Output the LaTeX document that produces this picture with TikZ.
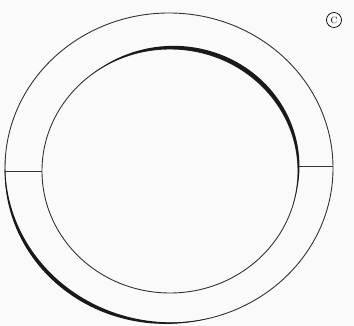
\documentclass[tikz,border=0pt]{standalone}
\usepackage{tikz}
\usetikzlibrary{positioning,calc}

\begin{document}
\begin{tikzpicture}[x=1pt,y=1pt,thinline/.style={line width=0.9pt,black!80},heavy/.style={fill=black!90}]
\useasboundingbox (0,0) rectangle (354,326);
\fill[black!2] (0,0) rectangle (354,326);
\coordinate (co) at (169,158);
\coordinate (ci) at (170,155);
\draw[thinline] (co) ellipse[x radius=164, y radius=155];
\draw[thinline] (ci) ellipse[x radius=128, y radius=122];
% radial joins
\coordinate (il) at ($(ci)+(180:128 and 122)$);
\coordinate (ol) at (5,155);
\coordinate (ir) at (298,160);
\coordinate (or) at (333,160);
\draw[thinline] (ol) -- (il);
\draw[thinline] (ir) -- (or);
% heavy parts
\fill[heavy] plot[domain=-15:128,samples=60] ({170+(128+4.2*sin((\x+15)*1.2587))*cos(\x)},{155+(122+4.2*sin((\x+15)*1.2587))*sin(\x)}) arc[start angle=128, end angle=-15, x radius=128, y radius=122];
\fill[heavy] plot[domain=176:284,samples=60] ({169+(164+2.2*sin((\x-176)*1.6667))*cos(\x)},{158+(155+2.2*sin((\x-176)*1.6667))*sin(\x)}) -- plot[domain=284:176,samples=60] ({169+(164-1.6*sin((\x-176)*1.6667))*cos(\x)},{158+(155-1.6*sin((\x-176)*1.6667))*sin(\x)}) -- cycle;
\node[circle,draw,line width=0.7pt,inner sep=0.4pt,minimum size=15pt,font=\small] (mark) at (334,306) {C};
\end{tikzpicture}
\end{document}
